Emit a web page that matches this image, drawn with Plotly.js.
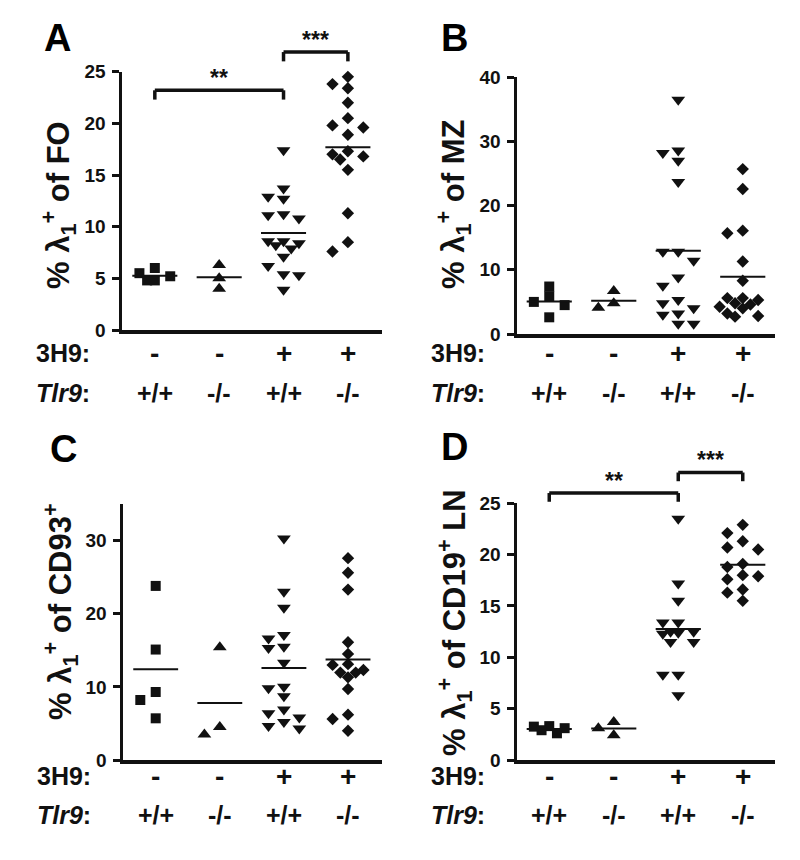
<!DOCTYPE html>
<html><head><meta charset="utf-8">
<script src="https://cdn.plot.ly/plotly-3.0.1.min.js"></script>
<style>html,body{margin:0;padding:0;background:#fff;} #chart{width:800px;height:860px;}</style>
</head><body><div id="chart"></div>
<script>
// ---- data ----
const labels3H9 = ['-', '-', '+', '+'];
const labelsTlr9 = ['+/+', '-/-', '+/+', '-/-'];
const groupSymbols = ['square', 'triangle-up', 'triangle-down', 'diamond'];

// Panel A: % λ1+ of FO
const A_wt = [6.0, 5.5, 5.2, 4.8, 4.8];
const A_tlr9ko = [6.3, 5.0, 4.0];
const A_3h9 = [17.4, 13.7, 12.9, 12.7, 11.2, 11.1, 10.8, 8.6, 8.6, 8.4, 8.2, 7.9, 7.1, 6.2, 5.4, 5.3, 3.9];
const A_3h9ko = [24.5, 23.8, 23.4, 22.0, 20.5, 19.8, 19.6, 18.9, 17.3, 17.0, 16.8, 16.5, 15.5, 11.3, 8.5, 7.6];

// Panel B: % λ1+ of MZ
const B_wt = [7.4, 5.9, 5.0, 4.5, 2.6];
const B_tlr9ko = [6.7, 4.8, 4.1];
const B_3h9 = [36.5, 28.6, 28.2, 27.0, 23.7, 12.8, 12.8, 11.4, 8.8, 7.5, 5.3, 4.8, 4.0, 3.2, 3.0, 1.6, 1.6];
const B_3h9ko = [25.7, 22.6, 16.1, 15.7, 11.3, 8.3, 5.6, 5.6, 5.3, 4.8, 4.6, 4.25, 4.0, 3.2, 2.8, 2.7];

// Panel C: % λ1+ of CD93+
const C_wt = [23.8, 15.1, 9.3, 8.2, 5.7];
const C_tlr9ko = [15.4, 4.5, 3.5];
const C_3h9 = [30.3, 23.0, 20.8, 17.1, 16.6, 15.5, 15.3, 13.3, 10.0, 9.8, 8.7, 6.9, 6.4, 5.8, 5.2, 4.65, 4.3];
const C_3h9ko = [27.6, 25.6, 23.3, 16.1, 14.5, 13.1, 13.0, 12.3, 11.95, 11.95, 11.3, 9.7, 6.2, 5.6, 4.0];

// Panel D: % λ1+ of CD19+ LN
const D_wt = [3.3, 3.25, 3.1, 2.9, 2.6];
const D_tlr9ko = [3.7, 3.1, 2.4];
const D_3h9 = [23.5, 17.2, 15.5, 13.4, 13.4, 12.5, 12.5, 12.4, 12.3, 11.5, 11.5, 8.3, 8.3, 6.3];
const D_3h9ko = [22.9, 22.1, 21.3, 20.7, 20.5, 19.1, 18.8, 18.0, 17.9, 17.6, 16.6, 16.3, 15.5];

// ---- layout config ----
const W = 800, H = 860;
const FONT = 'Liberation Sans, Arial, Helvetica, sans-serif';
const panels = [
  {letter: 'A', title: '% λ<sub>1</sub><sup>+</sup> of FO', groups: [A_wt, A_tlr9ko, A_3h9, A_3h9ko],
   yMax: 25, dtick: 5, box: {l: 122, r: 382, b: 330, t: 71.7}, xr: [0.49, 4.53],
   letterPos: [58, 38], titleY: 205, rowY: [353, 393],
   brackets: [{a: 1, b: 3, y: 23.2, d: 0.9, s: '**'}, {a: 3, b: 4, y: 26.9, d: 0.9, s: '***'}]},
  {letter: 'B', title: '% λ<sub>1</sub><sup>+</sup> of MZ', groups: [B_wt, B_tlr9ko, B_3h9, B_3h9ko],
   yMax: 40, dtick: 10, box: {l: 517, r: 775, b: 334, t: 77.3}, xr: [0.5, 4.5],
   letterPos: [454, 38], titleY: 205, rowY: [353, 393], brackets: []},
  {letter: 'C', title: '% λ<sub>1</sub><sup>+</sup> of CD93<sup>+</sup>', groups: [C_wt, C_tlr9ko, C_3h9, C_3h9ko],
   yMax: 35, dtick: 10, box: {l: 123, r: 382, b: 760, t: 504}, xr: [0.49, 4.53],
   letterPos: [63, 449], titleY: 612, rowY: [776, 815], brackets: []},
  {letter: 'D', title: '% λ<sub>1</sub><sup>+</sup> of CD19<sup>+</sup> LN', groups: [D_wt, D_tlr9ko, D_3h9, D_3h9ko],
   yMax: 25, dtick: 5, box: {l: 517, r: 775, b: 760, t: 503.3}, xr: [0.5, 4.5],
   letterPos: [454, 447], titleY: 623, rowY: [776, 815],
   brackets: [{a: 1, b: 3, y: 26.0, d: 0.85, s: '**'}, {a: 3, b: 4, y: 28.0, d: 0.85, s: '***'}]}
];

// simple beeswarm (column scatter) offsets, in category units
function swarm(vals, pxY, pxX) {
  const step = 7.7, dyMin = 9.5, dxMin = 7;
  const order = vals.map((v, i) => i).sort((a, b) => vals[b] - vals[a]);
  const cand = [0, -2, 2, -1, 1, -3, 3, -4, 4, -5, 5, -6, 6];
  const placed = [], offs = new Array(vals.length).fill(0);
  for (const i of order) {
    const y = vals[i] * pxY;
    for (const k of cand) {
      const x = k * step;
      if (placed.every(p => Math.abs(p.x - x) >= dxMin || Math.abs(p.y - y) >= dyMin)) {
        placed.push({x, y}); offs[i] = x / pxX; break;
      }
    }
  }
  return offs;
}
const mean = a => a.reduce((s, v) => s + v, 0) / a.length;

const traces = [], annotations = [], shapes = [], layout = {
  width: W, height: H, margin: {l: 0, r: 0, t: 0, b: 0},
  paper_bgcolor: '#fff', plot_bgcolor: '#fff', showlegend: false,
  font: {family: FONT, color: '#111'}
};
const markerSize = {'square': 10, 'triangle-up': 12, 'triangle-down': 12, 'diamond': 9.5};
const INK = '#111';

panels.forEach((p, k) => {
  const n = k + 1, xa = 'x' + (n === 1 ? '' : n), ya = 'y' + (n === 1 ? '' : n);
  const pxY = (p.box.b - p.box.t) / p.yMax;
  const pxX = (p.box.r - p.box.l) / (p.xr[1] - p.xr[0]);
  const tv = [];
  for (let v = 0; v <= p.yMax + 1e-9; v += p.dtick) tv.push(v);
  layout['xaxis' + (n === 1 ? '' : n)] = {
    domain: [p.box.l / W, p.box.r / W], range: p.xr, anchor: ya,
    showline: true, linewidth: 3.5, linecolor: INK, ticks: '', showticklabels: false,
    showgrid: false, zeroline: false, fixedrange: true
  };
  layout['yaxis' + (n === 1 ? '' : n)] = {
    domain: [(H - p.box.b) / H, (H - p.box.t) / H], range: [0, p.yMax], anchor: xa,
    tickmode: 'array', tickvals: tv, ticktext: tv.map(v => '<b>' + v + '</b>'),
    showline: true, linewidth: 3.5, linecolor: INK, ticks: 'outside', ticklen: 7, tickwidth: 3, tickcolor: INK,
    tickfont: {family: FONT, size: 19, color: INK}, ticklabelstandoff: 2,
    showgrid: false, zeroline: false, fixedrange: true
  };
  p.groups.forEach((vals, g) => {
    const offs = swarm(vals, pxY, pxX);
    traces.push({
      type: 'scatter', mode: 'markers', xaxis: xa, yaxis: ya, cliponaxis: false,
      x: vals.map((v, i) => g + 1 + offs[i]), y: vals,
      marker: {symbol: groupSymbols[g], size: markerSize[groupSymbols[g]], color: INK, line: {width: 0}},
      hoverinfo: 'y'
    });
    const m = mean(vals);
    traces.push({
      type: 'scatter', mode: 'lines', xaxis: xa, yaxis: ya, cliponaxis: false,
      x: [g + 1 - 0.35, g + 1 + 0.35], y: [m, m], line: {color: INK, width: 2}, hoverinfo: 'skip'
    });
  });
  const yd = ya + ' domain';
  p.brackets.forEach(br => {
    const top = br.y / p.yMax, foot = (br.y - br.d) / p.yMax;
    const ln = {color: INK, width: 3.5};
    shapes.push({type: 'line', xref: xa, yref: yd, x0: br.a, x1: br.a, y0: foot, y1: top, line: ln});
    shapes.push({type: 'line', xref: xa, yref: yd, x0: br.a, x1: br.b, y0: top, y1: top, line: ln});
    shapes.push({type: 'line', xref: xa, yref: yd, x0: br.b, x1: br.b, y0: foot, y1: top, line: ln});
    annotations.push({
      xref: xa, yref: yd, x: (br.a + br.b) / 2, y: top, text: '<b>' + br.s + '</b>', showarrow: false,
      xanchor: 'center', yanchor: 'bottom', yshift: -3,
      font: {family: FONT, size: 23, color: INK}
    });
  });
  // panel letter
  annotations.push({
    xref: 'paper', yref: 'paper', x: p.letterPos[0] / W, y: 1 - p.letterPos[1] / H,
    text: '<b>' + p.letter + '</b>', showarrow: false, xanchor: 'center', yanchor: 'middle',
    font: {family: FONT, size: 38, color: '#000'}
  });
  // y title
  annotations.push({
    xref: 'paper', yref: 'paper', x: (p.box.l - 63) / W, y: 1 - p.titleY / H,
    text: '<b>' + p.title + '</b>', showarrow: false, textangle: -90,
    xanchor: 'center', yanchor: 'middle',
    font: {family: FONT, size: 31, color: INK}
  });
  // row labels
  const rowFont = {family: FONT, size: 25, color: INK};
  annotations.push({
    xref: 'paper', yref: 'paper', x: (p.box.l - 30) / W, y: 1 - p.rowY[0] / H,
    text: '<b>3H9:</b>', showarrow: false, xanchor: 'right', yanchor: 'middle', font: rowFont
  });
  annotations.push({
    xref: 'paper', yref: 'paper', x: (p.box.l - 30) / W, y: 1 - p.rowY[1] / H,
    text: '<b><i>Tlr9</i>:</b>', showarrow: false, xanchor: 'right', yanchor: 'middle', font: rowFont
  });
  for (let g = 0; g < 4; g++) {
    annotations.push({
      xref: xa, yref: 'paper', x: g + 1, y: 1 - p.rowY[0] / H, text: '<b>' + labels3H9[g] + '</b>',
      showarrow: false, xanchor: 'center', yanchor: 'middle', font: {family: FONT, size: 28, color: INK}
    });
    annotations.push({
      xref: xa, yref: 'paper', x: g + 1, y: 1 - p.rowY[1] / H, text: '<b>' + labelsTlr9[g] + '</b>',
      showarrow: false, xanchor: 'center', yanchor: 'middle', font: rowFont
    });
  }
});
layout.annotations = annotations;
layout.shapes = shapes;
Plotly.newPlot('chart', traces, layout, {staticPlot: true, displayModeBar: false});
</script>
</body></html>
